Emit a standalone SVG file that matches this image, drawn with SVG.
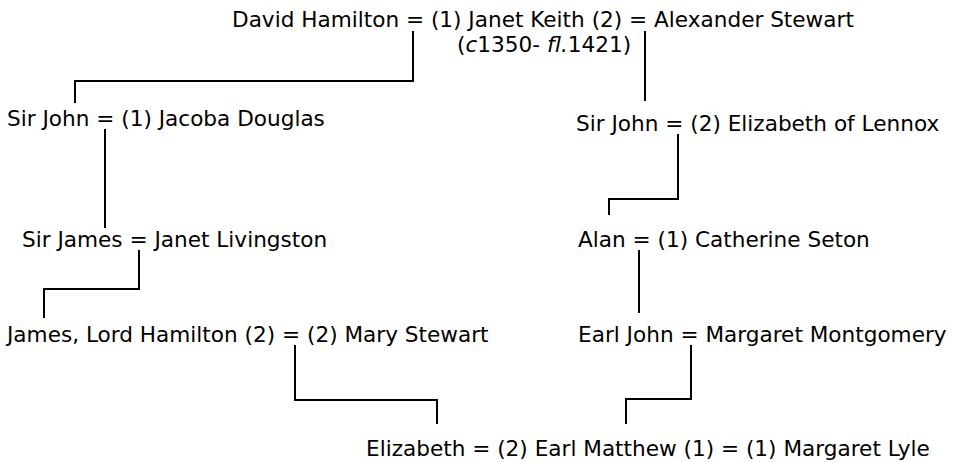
<svg xmlns="http://www.w3.org/2000/svg" width="953" height="462" viewBox="0 0 953 462">
<style>
text{font-family:"DejaVu Sans","Liberation Sans",sans-serif;font-size:21.6px;fill:#000}
.c{fill:none;stroke:#000;stroke-width:2}
</style>
<rect width="953" height="462" fill="#fff"/>
<g id="connectors">
<polyline class="c" points="413,31 413,81 75,81 75,103"/>
<polyline class="c" points="645,31 645,101"/>
<polyline class="c" points="105,129 105,228"/>
<polyline class="c" points="678,134 678,199 609,199 609,215"/>
<polyline class="c" points="139,250 139,289 44,289 44,318"/>
<polyline class="c" points="639,250 639,313"/>
<polyline class="c" points="295,345 295,400 437,400 437,424"/>
<polyline class="c" points="691,345 691,399 626,399 626,424"/>
</g>
<g id="n-david-janet-alexander"><text x="232" y="27">David Hamilton = (1) Janet Keith (2) = Alexander Stewart</text><text x="457" y="52">(<tspan font-style="italic">c</tspan>1350- <tspan font-style="italic">fl.</tspan>1421)</text></g>
<g id="n-sirjohn-jacoba"><text x="7" y="126">Sir John = (1) Jacoba Douglas</text></g>
<g id="n-sirjohn-elizabeth"><text x="576" y="131">Sir John = (2) Elizabeth of Lennox</text></g>
<g id="n-sirjames-janet"><text x="22" y="247">Sir James = Janet Livingston</text></g>
<g id="n-alan-catherine"><text x="578" y="247">Alan = (1) Catherine Seton</text></g>
<g id="n-james-mary"><text x="7" y="342">James, Lord Hamilton (2) = (2) Mary Stewart</text></g>
<g id="n-earljohn-margaret"><text x="578" y="342">Earl John = Margaret Montgomery</text></g>
<g id="n-elizabeth-matthew-margaret"><text x="366" y="456">Elizabeth = (2) Earl Matthew (1) = (1) Margaret Lyle</text></g>
</svg>
